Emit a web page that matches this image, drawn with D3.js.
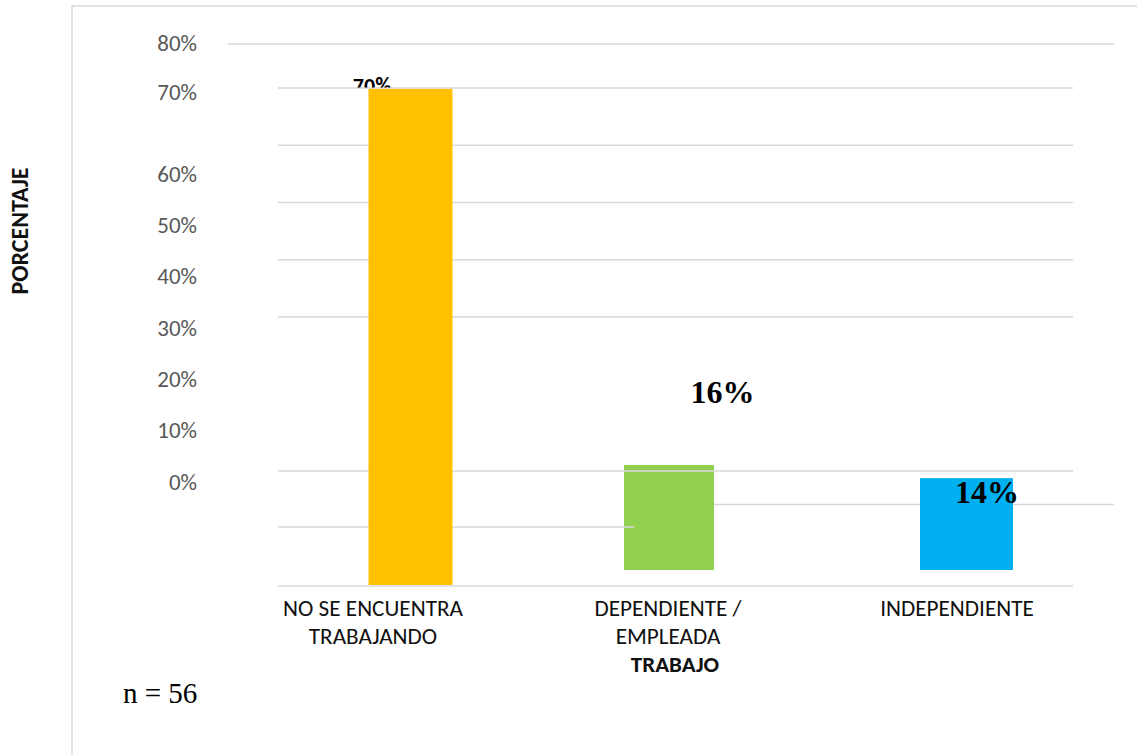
<!DOCTYPE html>
<html>
<head>
<meta charset="utf-8">
<script src="https://cdn.jsdelivr.net/npm/d3@7"></script>
<style>
  html, body { margin: 0; padding: 0; background: #ffffff; }
  svg { display: block; }
</style>
</head>
<body>
<svg id="chart" width="1137" height="755"></svg>
<script>
// ---- data ----
const categories = ["NO SE ENCUENTRA TRABAJANDO", "DEPENDIENTE / EMPLEADA", "INDEPENDIENTE"];
const categoryLines = [["NO SE ENCUENTRA", "TRABAJANDO"], ["DEPENDIENTE /", "EMPLEADA"], ["INDEPENDIENTE"]];
const percentages = [0.70, 0.16, 0.14];
const barColors = ["#FFC000", "#92D050", "#00B0F0"];
const tickValues = [0, 0.1, 0.2, 0.3, 0.4, 0.5, 0.6, 0.7, 0.8];
const sampleSize = 56;
const xTitle = "TRABAJO";
const yTitle = "PORCENTAJE";

// ---- layout ----
const W = 1137, H = 755;
const plotLeft = 278, plotRight = 1073;
const gridColor = "#d9d9d9";
const calibri = "Carlito, Lato, 'Open Sans', sans-serif";
const serif = "'Liberation Serif', 'Times New Roman', serif";

// per-category layout tweaks (pixels)
const barWidths = [84, 90, 93];
const barShift = [0, -6.5, 26];
const labelShift = [-37.5, -7.5, 16.5];
const valueDx = [-38.5, 53.5, 20.5];
const valueDy = [4, -62, 25];

const svg = d3.select("#chart");
svg.append("rect").attr("width", W).attr("height", H).attr("fill", "#fff");

// frame of the chart area
svg.append("path")
  .attr("d", `M72,${H} V6 H${W}`)
  .attr("fill", "none").attr("stroke", gridColor).attr("stroke-width", 1.5);

// scales
const x = d3.scaleBand(categories, [plotLeft, plotRight]);
const cx = (d, i) => x(d) + x.bandwidth() / 2;

const yGrid = d3.scaleLinear()
  .domain([0, 0.1, 0.2, 0.3, 0.7, 0.8])
  .range([586, 527, 471, 317, 88, 44]);

const yTicks = d3.scaleLinear()
  .domain([0, 0.6, 0.7, 0.8])
  .range([489.3, 181.3, 99.3, 50]);

const yBarMain = d3.scaleLinear().domain([0, 0.8]).range([585, 18]);
const yBarSide = d3.scaleLinear().domain([0, 0.8]).range([570, 45]);
const yBar = [yBarMain, yBarSide, yBarSide];

// reference line at the INDEPENDIENTE level, behind the small bars
svg.append("line")
  .attr("x1", cx(categories[1], 1) + barShift[1] + barWidths[1] / 2)
  .attr("x2", 1114)
  .attr("y1", yGrid(percentages[2])).attr("y2", yGrid(percentages[2]))
  .attr("stroke", gridColor).attr("stroke-width", 1.5);

// small bars
const bars = categories.map((c, i) => ({ c, i, v: percentages[i] }));
function barRect(sel) {
  sel.attr("x", d => cx(d.c, d.i) + barShift[d.i] - barWidths[d.i] / 2)
    .attr("width", d => barWidths[d.i])
    .attr("y", d => yBar[d.i](d.v))
    .attr("height", d => yBar[d.i](0) - yBar[d.i](d.v))
    .attr("fill", d => barColors[d.i]);
}
svg.append("g").selectAll("rect")
  .data(bars.filter(d => d.i > 0))
  .join("rect").call(barRect);

// gridlines
function gridExtent(v) {
  if (v === 0.8) return [228, 1114];
  if (v === 0.1) return [plotLeft, 634];
  return [plotLeft, plotRight];
}
svg.append("g").selectAll("line")
  .data(tickValues)
  .join("line")
  .attr("x1", d => gridExtent(d)[0])
  .attr("x2", d => gridExtent(d)[1])
  .attr("y1", d => yGrid(d)).attr("y2", d => yGrid(d))
  .attr("stroke", gridColor).attr("stroke-width", 1.5);

// value label of the tall bar, partly hidden under its gridline
const clip = svg.append("defs").append("clipPath").attr("id", "topClip");
clip.append("rect").attr("x", 0).attr("y", 0).attr("width", W).attr("height", yGrid(0.7) - 0.5);

const valueText = (d) => d3.format(".0%")(d.v);
svg.append("text")
  .datum(bars[0])
  .attr("clip-path", "url(#topClip)")
  .attr("x", d => cx(d.c, d.i) + barShift[d.i] + valueDx[d.i])
  .attr("y", d => yBar[d.i](d.v) + valueDy[d.i])
  .attr("text-anchor", "middle")
  .attr("font-family", calibri).attr("font-weight", "bold").attr("font-size", 22)
  .attr("fill", "#000")
  .text(valueText);

// tall bar
svg.append("g").selectAll("rect")
  .data(bars.filter(d => d.i === 0))
  .join("rect").call(barRect);

// value labels of the small bars
svg.append("g").selectAll("text")
  .data(bars.filter(d => d.i > 0))
  .join("text")
  .attr("x", d => cx(d.c, d.i) + barShift[d.i] + valueDx[d.i])
  .attr("y", d => yBar[d.i](d.v) + valueDy[d.i])
  .attr("text-anchor", "middle")
  .attr("font-family", serif).attr("font-weight", "bold").attr("font-size", 32)
  .attr("fill", "#000")
  .text(valueText);

// y axis labels
const yAxis = d3.axisLeft(yTicks)
  .tickValues(tickValues)
  .tickFormat(d3.format(".0%"))
  .tickSize(0).tickPadding(0);
const gy = svg.append("g").attr("transform", "translate(197,0)").call(yAxis);
gy.select(".domain").remove();
gy.selectAll("text")
  .attr("dy", 0)
  .attr("font-family", calibri).attr("font-size", 23)
  .attr("fill", "#595959");

// category labels
const gx = svg.append("g");
categories.forEach((c, i) => {
  const t = gx.append("text")
    .attr("x", cx(c, i) + labelShift[i])
    .attr("y", 616)
    .attr("text-anchor", "middle")
    .attr("font-family", calibri).attr("font-size", 23.2)
    .attr("fill", "#111");
  categoryLines[i].forEach((line, j) => {
    t.append("tspan")
      .attr("x", cx(c, i) + labelShift[i])
      .attr("dy", j === 0 ? 0 : 27.5)
      .text(line);
  });
});

// axis titles
svg.append("text")
  .attr("x", 675).attr("y", 672)
  .attr("text-anchor", "middle")
  .attr("font-family", calibri).attr("font-weight", "bold").attr("font-size", 23)
  .attr("fill", "#111")
  .text(xTitle);

svg.append("text")
  .attr("transform", "translate(28,231) rotate(-90)")
  .attr("text-anchor", "middle")
  .attr("font-family", calibri).attr("font-weight", "bold").attr("font-size", 24)
  .attr("fill", "#111")
  .text(yTitle);

// sample size note
svg.append("text")
  .attr("x", 123).attr("y", 703)
  .attr("font-family", serif).attr("font-size", 29)
  .attr("fill", "#000")
  .text(`n = ${sampleSize}`);
</script>
</body>
</html>
